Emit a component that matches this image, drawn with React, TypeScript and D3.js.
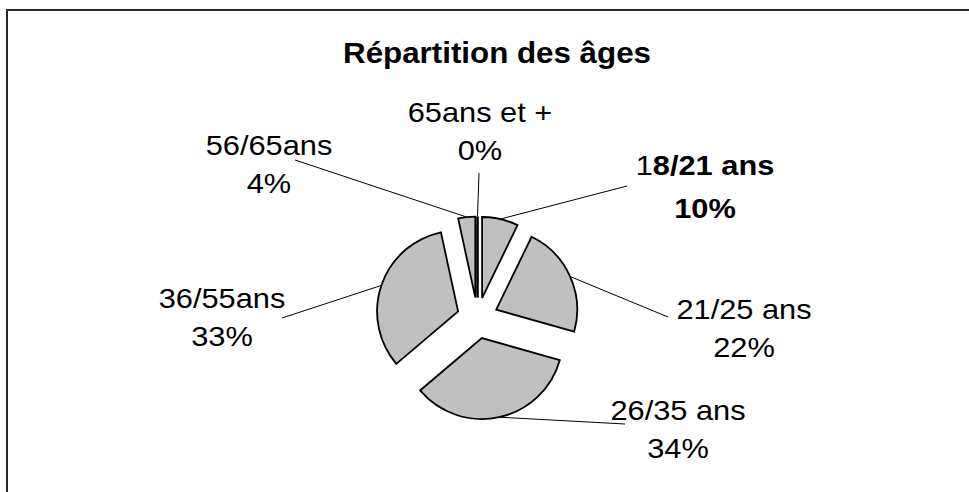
import * as d3 from 'd3';

// age groups, clockwise from 12 o'clock
const categories = ['18/21 ans', '21/25 ans', '26/35 ans', '36/55ans', '56/65ans', '65ans et +'];
// slice sizes as drawn (percent of total)
const shares = [7.2, 22.2, 34.4, 32.8, 3.4, 0];
// percentages as printed on the labels
const shownPercents = ['10%', '22%', '34%', '33%', '4%', '0%'];

const width = 969;
const height = 492;
const cx = 477.5;
const cy = 318;
const radius = 81;
const explode = 20.5;
const font = "'Liberation Sans', Arial, sans-serif";
const stretch = 1.08; // the original text is a bit wider than it is tall

// label anchor (center x, first baseline), line gap, leader end
const labelLayout = [
  { x: 705, y: 175, gap: 43, end: [627, 186], bold: true },
  { x: 744, y: 319, gap: 38, end: [668, 317] },
  { x: 678, y: 420, gap: 38, end: [625, 424] },
  { x: 222, y: 308, gap: 38, end: [282, 318] },
  { x: 269, y: 155, gap: 38, end: [295, 160] },
  { x: 480, y: 122, gap: 38, end: [479, 173] },
];

export default function App() {
  const pie = d3.pie<number>().sort(null).value((d) => d);
  const slices = pie(shares);
  const arc = d3.arc<d3.PieArcDatum<number>>().innerRadius(0).outerRadius(radius);
  const rim = d3.arc<d3.PieArcDatum<number>>().innerRadius(radius).outerRadius(radius);

  const offset = (s: d3.PieArcDatum<number>) => {
    const mid = (s.startAngle + s.endAngle) / 2;
    return [Math.sin(mid) * explode, -Math.cos(mid) * explode];
  };

  return (
    <svg
      width={width}
      height={height}
      style={{ position: 'absolute', left: 0, top: 0, background: '#fff' }}
    >
      <rect x={7} y={10} width={1200} height={800} fill="#fff" stroke="#2a2a2a" strokeWidth={2} />
      <text
        transform={`translate(497,63) scale(${stretch},1)`}
        textAnchor="middle"
        fontFamily={font}
        fontWeight="bold"
        fontSize={29}
      >
        Répartition des âges
      </text>

      {slices.map((s, i) => {
        const [dx, dy] = offset(s);
        const [px, py] = rim.centroid(s);
        const lay = labelLayout[i];
        return (
          <line
            key={`l${i}`}
            x1={cx + dx + px}
            y1={cy + dy + py}
            x2={lay.end[0]}
            y2={lay.end[1]}
            stroke="#000"
            strokeWidth={1}
          />
        );
      })}

      {slices.map((s, i) => {
        const [dx, dy] = offset(s);
        return (
          <path
            key={`s${i}`}
            d={arc(s) || ''}
            transform={`translate(${cx + dx},${cy + dy})`}
            fill="#c0c0c0"
            stroke="#000"
            strokeWidth={s.value === 0 ? 2.6 : 1.8}
            strokeLinejoin="miter"
          />
        );
      })}

      {categories.map((c, i) => {
        const lay = labelLayout[i];
        return (
          <text
            key={`t${i}`}
            transform={`translate(${lay.x},${lay.y}) scale(${stretch},1)`}
            textAnchor="middle"
            fontFamily={font}
            fontSize={28.5}
            fontWeight={lay.bold ? 'bold' : 'normal'}
          >
            {lay.bold ? (
              <>
                <tspan fontWeight="normal">{c.slice(0, 1)}</tspan>
                {c.slice(1)}
              </>
            ) : (
              c
            )}
            <tspan x={0} dy={lay.gap}>
              {shownPercents[i]}
            </tspan>
          </text>
        );
      })}
    </svg>
  );
}
